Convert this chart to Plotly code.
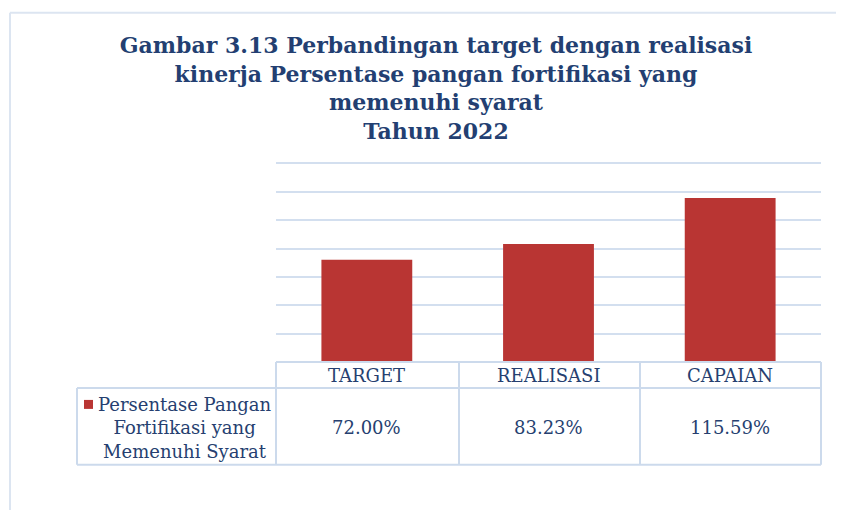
import plotly.graph_objects as go

categories = ["TARGET", "REALISASI", "CAPAIAN"]
values = [72.00, 83.23, 115.59]
series_name = "Persentase Pangan<br>Fortifikasi yang<br>Memenuhi Syarat"
title_text = ("Gambar 3.13 Perbandingan target dengan realisasi<br>"
              "kinerja Persentase pangan fortifikasi yang<br>"
              "memenuhi syarat<br>Tahun 2022")

W, H = 844, 510
OFF = 8  # page body margin offset
YMAX = 141
# plot area in page pixels: x 276..821, y 163 (=140) .. 362 (=0)
SCALE = (362 - 163) / 140
top_px = 362 - SCALE * YMAX
L = 276 - OFF
T = top_px - OFF
R = W - (821 - OFF)
B = H - (362 - OFF)
PW, PH = W - L - R, H - T - B


def px(x):
    return (x - OFF - L) / PW


def py(y):
    return (H - B - (y - OFF)) / PH


TITLE_C = "#233F72"
TXT_C = "#263F70"
GRID_C = "#D3DFEF"
BORDER_C = "#CCDAEC"
BAR_C = "#B93533"

fig = go.Figure()
fig.add_trace(go.Bar(
    x=categories, y=values, width=0.5,
    name="Persentase Pangan Fortifikasi yang Memenuhi Syarat",
    marker=dict(color=BAR_C, line=dict(width=0)), showlegend=False,
))

shapes = []


def line(x0, y0, x1, y1, color=BORDER_C, w=2):
    shapes.append(dict(type="line", xref="paper", yref="paper",
                       x0=px(x0), y0=py(y0), x1=px(x1), y1=py(y1),
                       line=dict(color=color, width=w), layer="above"))


# outer chart frame (top and left edges)
line(10, 12, 852, 12, color="#DCE5F1", w=2)
line(10, 12, 10, 520, color="#DCE5F1", w=2)

# data table grid
line(276, 362, 821, 362)
line(77, 388, 821, 388)
line(77, 465, 821, 465)
for xv in [276, 459, 640, 821]:
    line(xv, 362, xv, 465)
line(77, 388, 77, 465)

# legend key
shapes.append(dict(type="rect", xref="paper", yref="paper",
                   x0=px(84), x1=px(93), y0=py(409), y1=py(400),
                   fillcolor=BAR_C, line=dict(width=0)))

annotations = []
for c, v in zip(categories, values):
    annotations.append(dict(x=c, xref="x", y=py(376), yref="paper", text=c,
                            showarrow=False, xanchor="center", yanchor="middle",
                            font=dict(family="DejaVu Serif", size=18, color=TXT_C)))
    annotations.append(dict(x=c, xref="x", y=py(428), yref="paper", text=f"{v:.2f}%",
                            showarrow=False, xanchor="center", yanchor="middle",
                            font=dict(family="DejaVu Serif", size=18, color=TXT_C)))

annotations.append(dict(x=px(184), xref="paper", y=py(428), yref="paper", text=series_name,
                        showarrow=False, xanchor="center", yanchor="middle", align="center",
                        font=dict(family="DejaVu Serif", size=18, color=TXT_C)))

fig.update_layout(
    width=W, height=H, autosize=False,
    margin=dict(l=L, r=R, t=T, b=B),
    paper_bgcolor="white", plot_bgcolor="white",
    title=dict(text=title_text, x=(436 - OFF) / W, xref="container", xanchor="center",
               y=1 - 45 / H, yref="container", yanchor="top",
               font=dict(family="DejaVu Serif", size=22, color=TITLE_C, weight="bold")),
    xaxis=dict(range=[-0.5, 2.5], showticklabels=False, showgrid=False, zeroline=False,
               showline=False, ticks=""),
    yaxis=dict(range=[0, YMAX], tickvals=[20, 40, 60, 80, 100, 120, 140],
               showticklabels=False, showgrid=True,
               gridcolor=GRID_C, gridwidth=2, zeroline=False, showline=False, ticks=""),
    bargap=0.5,
    shapes=shapes,
    annotations=annotations,
)

fig.write_html("out.html")
